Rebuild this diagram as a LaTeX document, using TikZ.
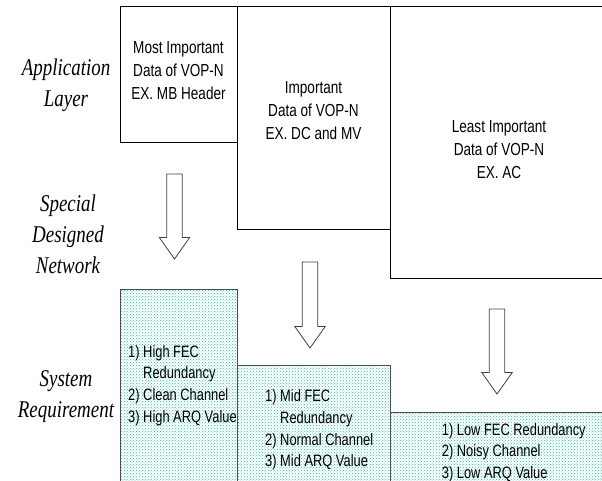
\documentclass[tikz,border=0pt]{standalone}
\usepackage{fontspec}
\usetikzlibrary{patterns}
\newfontfamily\boxfont[FakeStretch=0.78]{Liberation Sans}
\newfontfamily\layerfont[FakeStretch=0.79]{Liberation Serif}
\definecolor{dotgreen}{RGB}{40,200,165}
\begin{document}
\begin{tikzpicture}[x=1pt,y=-1pt,
  databox/.style={draw,line width=0.8pt,inner sep=0pt},
  needbox/.style={databox,draw=black!70,pattern=crosshatch dots,pattern color=dotgreen},
  boxtext/.style={font=\boxfont\fontsize{17.4}{23}\selectfont,align=center,inner sep=0pt},
  needtext/.style={font=\boxfont\fontsize{16.5}{21.6}\selectfont,align=left,inner sep=0pt,anchor=west},
  layertext/.style={font=\layerfont\itshape\fontsize{24}{31}\selectfont,align=center,inner sep=0pt},
  blockarrow/.style={draw=black!75,line width=0.8pt,fill=white}]
\useasboundingbox (0,0) rectangle (602,481);
\clip (0,0) rectangle (602,481);
\node[databox,minimum width=117,minimum height=136] (most) at (178.5,74) {};
\node[databox,minimum width=153,minimum height=223] (important) at (313.5,117.5) {};
\node[databox,minimum width=220,minimum height=272] (least) at (500,142) {};
\node[needbox,minimum width=117,minimum height=201] (high) at (178.5,389.5) {};
\node[needbox,minimum width=153,minimum height=125] (mid) at (313.5,427.5) {};
\node[needbox,minimum width=220,minimum height=78] (low) at (500,451) {};
\foreach \ax/\ay/\az in {174.5/174/259,310/262/348,497/309/394}
  \draw[blockarrow] (\ax-7.7,\ay) -- (\ax+7.7,\ay) -- (\ax+7.7,\az-21.5) -- (\ax+15.2,\az-21.5)
    -- (\ax,\az) -- (\ax-15.2,\az-21.5) -- (\ax-7.7,\az-21.5) -- cycle;
\node[boxtext] (mostText) at (178.5,70.5) {Most Important\\Data of VOP-N\\EX. MB Header};
\node[boxtext] (importantText) at (313.5,111) {Important\\Data of VOP-N\\EX. DC and MV};
\node[boxtext] (leastText) at (499,149.5) {Least Important\\Data of VOP-N\\EX. AC};
\node[needtext] (highText) at (128,385.5) {1) High FEC\\\phantom{1) }Redundancy\\2) Clean Channel\\3) High ARQ Value};
\node[needtext] (midText) at (265,430) {1) Mid FEC\\\phantom{1) }Redundancy\\2) Normal Channel\\3) Mid ARQ Value};
\node[needtext] (lowText) at (441.7,452.5) {1) Low FEC Redundancy\\2) Noisy Channel\\3) Low ARQ Value};
\node[layertext] (appLabel) at (66,85) {Application\\Layer};
\node[layertext] (netLabel) at (68,234) {Special\\Designed\\Network};
\node[layertext] (sysLabel) at (66,396.5) {System\\Requirement};
\end{tikzpicture}
\end{document}
